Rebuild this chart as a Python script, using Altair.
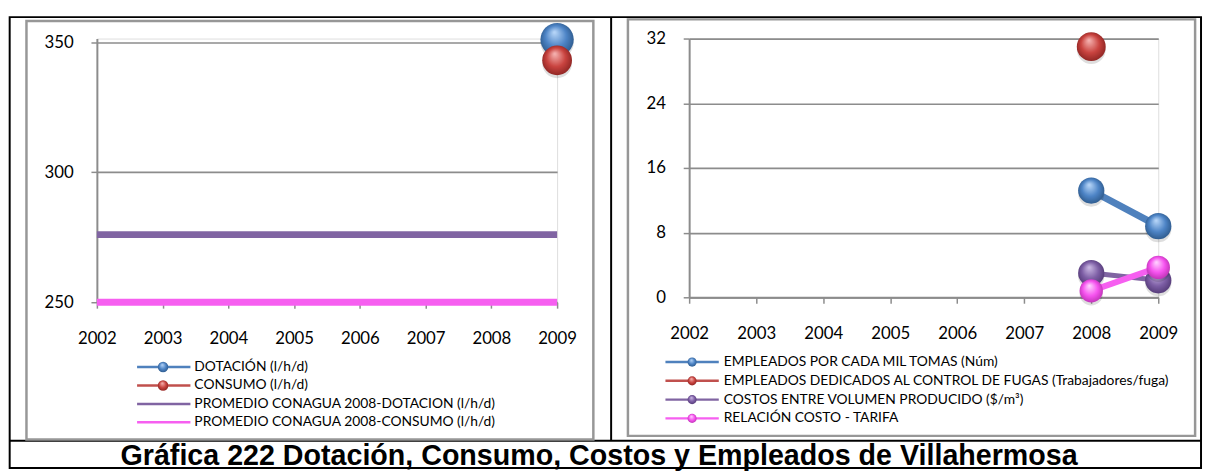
import altair as alt
import pandas as pd

# ---------------- data ----------------
years = [2002, 2003, 2004, 2005, 2006, 2007, 2008, 2009]

left_names = [
    "DOTACIÓN (l/h/d)",
    "CONSUMO (l/h/d)",
    "PROMEDIO CONAGUA 2008-DOTACION (l/h/d)",
    "PROMEDIO CONAGUA 2008-CONSUMO (l/h/d)",
]
left_markers = [True, True, False, False]
dotacion_years = [2009]
dotacion = [351]
consumo_years = [2009]
consumo = [343]
prom_dotacion = [276, 276, 276, 276, 276, 276, 276, 276]
prom_consumo = [250, 250, 250, 250, 250, 250, 250, 250]

right_names = [
    "EMPLEADOS POR CADA MIL TOMAS (Núm)",
    "EMPLEADOS DEDICADOS AL CONTROL DE FUGAS (Trabajadores/fuga)",
    "COSTOS ENTRE VOLUMEN PRODUCIDO ($/m³)",
    "RELACIÓN COSTO - TARIFA",
]
right_markers = [True, True, True, True]
empleados_years = [2008, 2009]
empleados = [13.2, 8.8]
fugas_years = [2008]
fugas = [31.0]
costos_years = [2008, 2009]
costos = [3.0, 2.1]
relacion_years = [2008, 2009]
relacion = [0.8, 3.7]

left_ticks = [250, 300, 350]
right_ticks = [0, 8, 16, 24, 32]

title_text = "Gráfica 222 Dotación, Consumo, Costos y Empleados de Villahermosa"

# ---------------- styles ----------------
BLUE, RED, PURPLE, PINK = "#4f81bd", "#c0504d", "#8064a2", "#f65ff0"
COLORS = [BLUE, RED, PURPLE, PINK]
GRID = "#8c8c8c"
FONT = "Lato"


def df(xs, ys, name):
    return pd.DataFrame({"year": xs, "value": ys, "serie": [name] * len(xs)})


def grad(light, mid, dark):
    return alt.RadialGradient(
        gradient="radial",
        stops=[
            alt.GradientStop(offset=0, color=light),
            alt.GradientStop(offset=0.55, color=mid),
            alt.GradientStop(offset=1, color=dark),
        ],
        x1=0.42, y1=0.28, r1=0.02, x2=0.5, y2=0.5, r2=0.56,
    )


GRADS = [
    grad("#b5d4f7", "#4d84c6", "#2a5585"),
    grad("#f4b0ae", "#c9433f", "#86211f"),
    grad("#c9b6e2", "#7d5ea5", "#4f3672"),
    grad("#ffd0ff", "#f653ef", "#b72fae"),
]
G_BLUE, G_RED, G_PURPLE, G_PINK = GRADS


def enc(chart, ydom, yticks):
    return chart.encode(
        x=alt.X("year:Q", scale=alt.Scale(domain=[2002, 2009], nice=False, zero=False),
                axis=alt.Axis(values=years, format="d", title=None, grid=False,
                              labelFont=FONT, labelFontSize=17, labelColor="black",
                              labelBaseline="middle", labelPadding=31,
                              labelFlush=False, labelOverlap=False,
                              tickColor=GRID, tickSize=6, tickWidth=1.5,
                              domainColor=GRID, domainWidth=2)),
        y=alt.Y("value:Q", scale=alt.Scale(domain=ydom, nice=False, zero=False),
                axis=alt.Axis(values=yticks, title=None, grid=True, gridColor=GRID,
                              gridWidth=1.7, labelFont=FONT, labelFontSize=17,
                              labelColor="black", labelPadding=18,
                              labelFlush=False, labelOverlap=False,
                              tickColor=GRID, tickSize=6, tickWidth=1.5,
                              domainColor=GRID, domainWidth=2)),
    )


def line(d, color, w, ydom, yticks):
    return enc(alt.Chart(d).mark_line(stroke=color, strokeWidth=w), ydom, yticks)


def balls(d, g, size, ydom, yticks):
    shadow = enc(alt.Chart(d).mark_circle(color="#000000", size=size, opacity=0.13),
                 ydom, yticks).encode(yOffset=alt.value(3))
    ball = enc(alt.Chart(d).mark_circle(fill=g, size=size, opacity=1, strokeWidth=0),
               ydom, yticks)
    return alt.layer(shadow, ball)


def legend(names, markers, rows, x_line, x_dot, x_text, dot_size):
    ld = pd.DataFrame({"serie": names, "marker": markers})
    y = alt.Y("serie:N", axis=None,
              scale=alt.Scale(type="point", domain=names, range=rows, padding=0))
    col = alt.Color("serie:N", scale=alt.Scale(domain=names, range=COLORS), legend=None)
    base = alt.Chart(ld)
    layers = [
        base.mark_rule(strokeWidth=2.5).encode(
            x=alt.value(x_line[0]), x2=alt.value(x_line[1]), y=y, color=col),
        base.mark_text(align="left", baseline="middle", font=FONT, fontSize=14,
                       color="black").encode(x=alt.value(x_text), y=y, text="serie:N"),
    ]
    for name, has_marker, g in zip(names, markers, GRADS):
        if has_marker:
            layers.append(
                base.transform_filter(alt.datum.serie == name)
                .mark_circle(size=dot_size, opacity=1, fill=g, strokeWidth=0)
                .encode(x=alt.value(x_dot), y=y))
    return alt.layer(*layers)


one = pd.DataFrame({"k": [0]})

# ---------------- left panel ----------------
LDOM = [250, 351.37]
left_main = alt.layer(
    alt.Chart(one).mark_rect(fillOpacity=0, stroke="black", strokeWidth=2).encode(
        x=alt.value(-88.3), x2=alt.value(1118), y=alt.value(-21.7), y2=alt.value(434.8)),
    alt.Chart(one).mark_rule(color="black", strokeWidth=2).encode(
        x=alt.value(-88.3), x2=alt.value(1118), y=alt.value(407.3)),
    alt.Chart(one).mark_rule(color="black", strokeWidth=2).encode(
        x=alt.value(520.7), y=alt.value(-21.7), y2=alt.value(407.3)),
    alt.Chart(one).mark_rect(fillOpacity=0, stroke="#979797", strokeWidth=2.5).encode(
        x=alt.value(-71.3), x2=alt.value(502.7), y=alt.value(-17.7), y2=alt.value(406)),
    line(df(years, prom_dotacion, left_names[2]), PURPLE, 7, LDOM, left_ticks),
    line(df(years, prom_consumo, left_names[3]), PINK, 7, LDOM, left_ticks),
    balls(df(dotacion_years, dotacion, left_names[0]), G_BLUE, 1134, LDOM, left_ticks),
    balls(df(consumo_years, consumo, left_names[1]), G_RED, 908, LDOM, left_ticks),
    alt.Chart(one).mark_text(text=title_text, font="Liberation Sans", fontWeight="bold",
                             fontSize=29, align="center", baseline="alphabetic",
                             color="black").encode(x=alt.value(508.5), y=alt.value(432)),
)
left_leg = legend(left_names, left_markers, [332.6, 388.6], (40.7, 94.7), 67, 98.7, 113)
left = alt.layer(left_main, left_leg).resolve_scale(y="independent").properties(
    width=466, height=267)

# ---------------- right panel ----------------
RDOM = [0, 32]
right_main = alt.layer(
    alt.Chart(one).mark_rect(fillOpacity=0, stroke="#979797", strokeWidth=2.5).encode(
        x=alt.value(-62), x2=alt.value(512.3), y=alt.value(-19.4), y2=alt.value(402.3)),
    line(df(empleados_years, empleados, right_names[0]), BLUE, 7, RDOM, right_ticks),
    balls(df(empleados_years, empleados, right_names[0]), G_BLUE, 707, RDOM, right_ticks),
    balls(df(fugas_years, fugas, right_names[1]), G_RED, 855, RDOM, right_ticks),
    line(df(costos_years, costos, right_names[2]), PURPLE, 5, RDOM, right_ticks),
    balls(df(costos_years, costos, right_names[2]), G_PURPLE, 707, RDOM, right_ticks),
    line(df(relacion_years, relacion, right_names[3]), PINK, 6, RDOM, right_ticks),
    balls(df(relacion_years, relacion, right_names[3]), G_PINK, 560, RDOM, right_ticks),
)
right_leg = legend(right_names, right_markers, [327.6, 384.6], (-24, 30), 3, 35, 85)
right = alt.layer(right_main, right_leg).resolve_scale(y="independent").properties(
    width=475, height=262)

chart = alt.hconcat(
    left, right, spacing=133.7, bounds="flush",
    padding={"left": 0, "top": 4, "right": 0, "bottom": 0},
).resolve_scale(
    x="independent", y="independent", color="independent",
).configure_view(
    strokeWidth=0
).configure(background="white")

chart.save("out.html", embed_options={"renderer": "svg", "actions": False})
